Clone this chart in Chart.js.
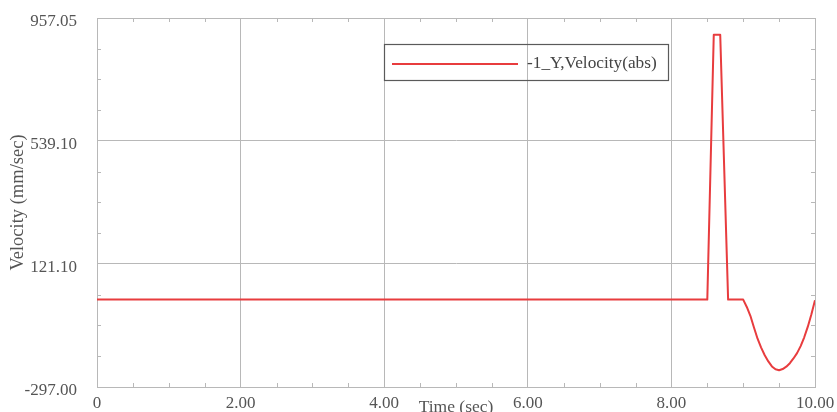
<!DOCTYPE html>
<html>
<head>
<meta charset="utf-8">
<script src="https://cdn.jsdelivr.net/npm/chart.js@4.4.1/dist/chart.umd.min.js"></script>
<style>
  html, body { margin: 0; padding: 0; background: #fff; }
  #wrap { width: 837px; height: 412px; position: relative; }
</style>
</head>
<body>
<div id="wrap"><canvas id="velChart"></canvas></div>
<script>
// datos
const seriesLabel = '-1_Y,Velocity(abs)';
const times = [0, 8.5, 8.59, 8.68, 8.79, 9.0,
  9.05, 9.10, 9.15, 9.20, 9.25, 9.30, 9.35, 9.40, 9.45, 9.50,
  9.55, 9.60, 9.65, 9.70, 9.75, 9.80, 9.85, 9.90, 9.95, 10.0];
const velocity = [0, 0, 900, 900, 0, 0,
  -25, -55, -95, -133, -163, -189, -210, -227, -237, -240,
  -236, -228, -216, -200, -182, -158, -128, -92, -50, -2];
const xTicks = [0, 2, 4, 6, 8, 10];
const xTickLabels = ['0', '2.00', '4.00', '6.00', '8.00', '10.00'];
const yTicks = [-297.00, 121.10, 539.10, 957.05];
const yTickLabels = ['-297.00', '121.10', '539.10', '957.05'];

const lineColor = 'rgb(232, 60, 62)';
const gridColor = '#b8b8b8';
const textColor = '#555';

Chart.defaults.font.family = "'Liberation Serif', 'Times New Roman', serif";
Chart.defaults.font.size = 17;

// ticks menores hacia dentro (4 por intervalo)
const minorTicks = {
  id: 'minorTicks',
  beforeDatasetsDraw(chart) {
    const { ctx, chartArea: a, scales: { x, y } } = chart;
    ctx.save();
    ctx.strokeStyle = gridColor;
    ctx.lineWidth = 1;
    ctx.beginPath();
    for (let i = 0; i < xTicks.length - 1; i++) {
      const step = (xTicks[i + 1] - xTicks[i]) / 4;
      for (let k = 1; k < 4; k++) {
        const px = Math.round(x.getPixelForValue(xTicks[i] + k * step)) + 0.5;
        ctx.moveTo(px, a.bottom); ctx.lineTo(px, a.bottom - 4);
        ctx.moveTo(px, a.top); ctx.lineTo(px, a.top + 4);
      }
    }
    for (let i = 0; i < yTicks.length - 1; i++) {
      const step = (yTicks[i + 1] - yTicks[i]) / 4;
      for (let k = 1; k < 4; k++) {
        const py = Math.round(y.getPixelForValue(yTicks[i] + k * step)) + 0.5;
        ctx.moveTo(a.left, py); ctx.lineTo(a.left + 4, py);
        ctx.moveTo(a.right, py); ctx.lineTo(a.right - 4, py);
      }
    }
    ctx.stroke();
    ctx.restore();
  }
};

// leyenda con recuadro dentro del area
const boxLegend = {
  id: 'boxLegend',
  afterDatasetsDraw(chart) {
    const { ctx, chartArea: a } = chart;
    const ds = chart.data.datasets[0];
    const bx = a.left + 287, by = a.top + 26;
    ctx.save();
    ctx.strokeStyle = '#5a5a5a';
    ctx.lineWidth = 1.2;
    ctx.strokeRect(bx + 0.5, by + 0.5, 284, 36);
    ctx.strokeStyle = ds.borderColor;
    ctx.lineWidth = 2;
    ctx.beginPath();
    ctx.moveTo(bx + 8, by + 20);
    ctx.lineTo(bx + 134, by + 20);
    ctx.stroke();
    ctx.fillStyle = '#444';
    ctx.font = "17.3px 'Liberation Serif', serif";
    ctx.textBaseline = 'middle';
    ctx.fillText(ds.label, bx + 143, by + 19);
    ctx.restore();
  }
};

new Chart(document.getElementById('velChart'), {
  type: 'line',
  data: {
    datasets: [{
      label: seriesLabel,
      data: times.map((t, i) => ({ x: t, y: velocity[i] })),
      borderColor: lineColor,
      borderWidth: 2,
      borderJoinStyle: 'round',
      pointRadius: 0,
      tension: 0,
      fill: false
    }]
  },
  options: {
    responsive: true,
    maintainAspectRatio: false,
    animation: false,
    devicePixelRatio: 1,
    layout: { padding: { top: 18, right: 22, left: 0, bottom: 0 } },
    plugins: {
      legend: { display: false },
      tooltip: { enabled: false }
    },
    scales: {
      x: {
        type: 'linear',
        min: 0,
        max: 10,
        afterBuildTicks: s => { s.ticks = xTicks.map(v => ({ value: v })); },
        afterFit: s => {
          s.height = 25;
          s.paddingLeft = 0; s.paddingRight = 0;
        },
        ticks: {
          autoSkip: false,
          maxRotation: 0,
          padding: 6,
          color: textColor,
          callback: (v, i) => xTickLabels[i]
        },
        grid: { color: gridColor, drawTicks: false },
        border: { color: gridColor },
        title: {
          display: true,
          text: 'Time (sec)',
          color: textColor,
          font: { size: 17.5, lineHeight: 1 },
          padding: { top: 0, bottom: -4 }
        }
      },
      y: {
        min: -297.00,
        max: 957.05,
        afterBuildTicks: s => { s.ticks = yTicks.map(v => ({ value: v })); },
        afterFit: s => {
          s.width = 97;
          s.paddingTop = 0; s.paddingBottom = 0;
        },
        ticks: {
          padding: 20,
          labelOffset: 4,
          color: textColor,
          callback: (v, i) => yTickLabels[i]
        },
        grid: { color: gridColor, drawTicks: false },
        border: { color: gridColor },
        title: {
          display: true,
          text: 'Velocity (mm/sec)',
          color: textColor,
          font: { size: 18.5, lineHeight: 1.2 },
          padding: { top: 7, bottom: 0 }
        }
      }
    }
  },
  plugins: [minorTicks, boxLegend]
});
</script>
</body>
</html>
